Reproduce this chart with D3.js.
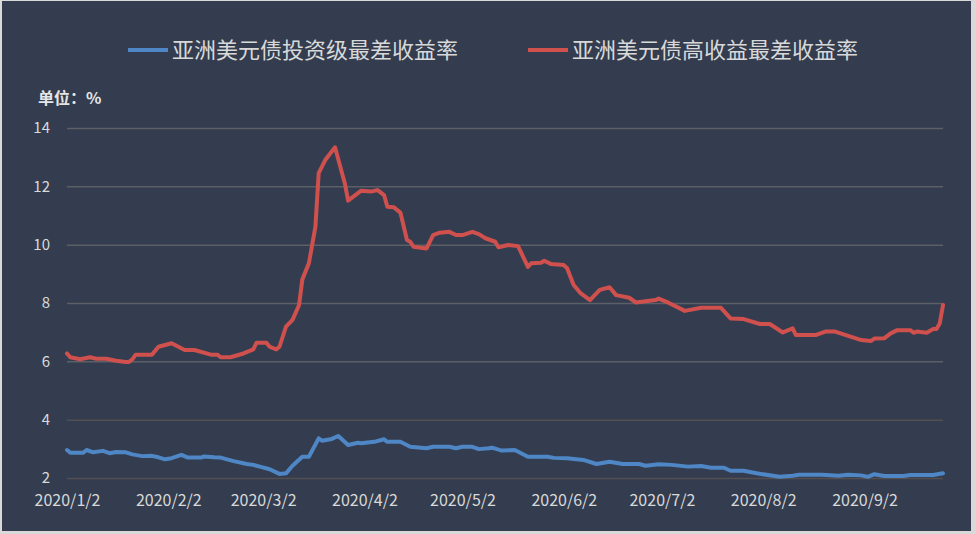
<!DOCTYPE html>
<html>
<head>
<meta charset="utf-8">
<script src="https://cdn.jsdelivr.net/npm/d3@7"></script>
<style>
  html, body { margin: 0; padding: 0; background: #d9d9d9; }
  svg { display: block; }
</style>
</head>
<body>
<svg id="chart" width="976" height="534"></svg>
<script>
// ---- data ----
const seriesNames = ["亚洲美元债投资级最差收益率", "亚洲美元债高收益最差收益率"];
const yTicks = [2, 4, 6, 8, 10, 12, 14];
const xTickLabels = ["2020/1/2", "2020/2/2", "2020/3/2", "2020/4/2", "2020/5/2", "2020/6/2", "2020/7/2", "2020/8/2", "2020/9/2"];

const igDates = ["2020-01-02","2020-01-03","2020-01-07","2020-01-08","2020-01-10","2020-01-13","2020-01-15","2020-01-17","2020-01-20","2020-01-22",
  "2020-01-25","2020-01-28","2020-01-30","2020-02-01","2020-02-03","2020-02-06","2020-02-08","2020-02-12","2020-02-13","2020-02-16",
  "2020-02-18","2020-02-22","2020-02-26","2020-02-28","2020-03-01","2020-03-04","2020-03-07","2020-03-09","2020-03-11","2020-03-14",
  "2020-03-16","2020-03-19","2020-03-20","2020-03-23","2020-03-25","2020-03-28","2020-03-31","2020-04-01","2020-04-05","2020-04-08",
  "2020-04-09","2020-04-13","2020-04-16","2020-04-21","2020-04-23","2020-04-28","2020-04-30","2020-05-02","2020-05-05","2020-05-07",
  "2020-05-10","2020-05-11","2020-05-14","2020-05-18","2020-05-22","2020-05-28","2020-05-30","2020-06-03","2020-06-08","2020-06-12",
  "2020-06-16","2020-06-20","2020-06-25","2020-06-27","2020-07-01","2020-07-05","2020-07-10","2020-07-14","2020-07-17","2020-07-21",
  "2020-07-23","2020-07-27","2020-07-31","2020-08-07","2020-08-11","2020-08-13","2020-08-20","2020-08-25","2020-08-28","2020-09-01",
  "2020-09-03","2020-09-05","2020-09-08","2020-09-14","2020-09-16","2020-09-23","2020-09-26"];
const igValues = [2.96,2.87,2.87,2.96,2.88,2.93,2.85,2.89,2.88,2.81,
  2.75,2.76,2.71,2.64,2.68,2.79,2.70,2.70,2.74,2.71,
  2.70,2.58,2.48,2.45,2.39,2.30,2.14,2.16,2.42,2.73,
  2.73,3.36,3.28,3.34,3.44,3.13,3.21,3.19,3.24,3.33,
  3.24,3.24,3.07,3.02,3.07,3.07,3.02,3.07,3.07,2.99,
  3.02,3.04,2.94,2.96,2.73,2.73,2.69,2.68,2.62,2.48,
  2.56,2.48,2.48,2.42,2.47,2.45,2.39,2.41,2.35,2.35,
  2.25,2.25,2.16,2.04,2.08,2.11,2.11,2.08,2.11,2.09,
  2.04,2.13,2.07,2.07,2.10,2.10,2.16];

const hyDates = ["2020-01-02","2020-01-03","2020-01-06","2020-01-09","2020-01-11","2020-01-14","2020-01-17","2020-01-20","2020-01-21","2020-01-22",
  "2020-01-23","2020-01-28","2020-01-30","2020-02-03","2020-02-07","2020-02-10","2020-02-15","2020-02-17","2020-02-18","2020-02-21",
  "2020-02-25","2020-02-28","2020-02-29","2020-03-03","2020-03-04","2020-03-06","2020-03-07","2020-03-09","2020-03-11","2020-03-13",
  "2020-03-14","2020-03-16","2020-03-18","2020-03-19","2020-03-21","2020-03-24","2020-03-27","2020-03-28","2020-04-01","2020-04-04",
  "2020-04-06","2020-04-08","2020-04-09","2020-04-11","2020-04-13","2020-04-15","2020-04-16","2020-04-17","2020-04-21","2020-04-23",
  "2020-04-25","2020-04-28","2020-04-30","2020-05-02","2020-05-05","2020-05-07","2020-05-09","2020-05-12","2020-05-13","2020-05-16",
  "2020-05-19","2020-05-22","2020-05-23","2020-05-26","2020-05-27","2020-05-29","2020-06-02","2020-06-03","2020-06-05","2020-06-07",
  "2020-06-10","2020-06-11","2020-06-13","2020-06-16","2020-06-18","2020-06-22","2020-06-24","2020-06-30","2020-07-01","2020-07-04",
  "2020-07-09","2020-07-14","2020-07-20","2020-07-23","2020-07-27","2020-08-01","2020-08-04","2020-08-08","2020-08-11","2020-08-12",
  "2020-08-18","2020-08-21","2020-08-24","2020-09-01","2020-09-04","2020-09-05","2020-09-08","2020-09-10","2020-09-12","2020-09-16",
  "2020-09-17","2020-09-18","2020-09-21","2020-09-23","2020-09-24","2020-09-25","2020-09-26"];
const hyValues = [6.27,6.14,6.07,6.14,6.09,6.09,6.02,5.98,5.98,6.07,
  6.23,6.23,6.50,6.62,6.39,6.39,6.23,6.23,6.14,6.14,
  6.27,6.41,6.64,6.64,6.50,6.41,6.50,7.19,7.42,7.93,
  8.81,9.36,10.62,12.45,12.90,13.34,12.10,11.51,11.85,11.82,
  11.87,11.70,11.30,11.28,11.10,10.16,10.10,9.93,9.87,10.33,
  10.41,10.44,10.33,10.33,10.44,10.36,10.22,10.10,9.91,9.99,
  9.95,9.24,9.36,9.38,9.45,9.34,9.30,9.19,8.62,8.35,
  8.10,8.22,8.45,8.54,8.27,8.18,8.02,8.10,8.15,8.01,
  7.73,7.84,7.84,7.47,7.45,7.28,7.28,6.99,7.13,6.90,
  6.90,7.02,7.02,6.73,6.70,6.78,6.79,6.96,7.07,7.07,
  6.98,7.02,6.98,7.11,7.11,7.30,7.93];

const seriesColors = ["#4f86c5", "#d0504e"];

// ---- build ----
const parse = d3.timeParse("%Y-%m-%d");
const parseTick = d3.timeParse("%Y/%m/%d");
const ig = igDates.map((d, i) => ({ date: parse(d), value: igValues[i] }));
const hy = hyDates.map((d, i) => ({ date: parse(d), value: hyValues[i] }));

const svg = d3.select("#chart");
const plotLeft = 67, plotRight = 943, plotTop = 128, plotBottom = 478;

svg.append("rect").attr("x", 2).attr("y", 1).attr("width", 969).attr("height", 530).attr("fill", "#333d4f");

const x = d3.scaleTime()
  .domain([parse("2020-01-02"), parse("2020-09-26")])
  .range([plotLeft, plotRight]);
const y = d3.scaleLinear().domain([2, 14]).range([plotBottom, plotTop]);

const font = "'Noto Sans CJK SC', 'Noto Sans', sans-serif";

// gridlines + y labels
const yAxis = d3.axisLeft(y).tickValues(yTicks).tickSize(-(plotRight - plotLeft)).tickPadding(17).tickFormat(d3.format("d"));
const gy = svg.append("g").attr("transform", `translate(${plotLeft},0)`).call(yAxis);
gy.select(".domain").remove();
gy.selectAll(".tick line").attr("stroke", (d) => d <= 4 ? "#534f50" : "#5c5f65").attr("stroke-width", 1.5);
gy.selectAll(".tick text").attr("fill", "#d9d9d9").attr("font-size", 15).attr("font-family", font);

// x labels
const xAxis = d3.axisBottom(x).tickValues(xTickLabels.map(s => parseTick(s))).tickSize(0).tickPadding(17)
  .tickFormat((d, i) => xTickLabels[i]);
const gx = svg.append("g").attr("transform", `translate(0,${plotBottom})`).call(xAxis);
gx.select(".domain").remove();
gx.selectAll(".tick text").attr("fill", "#d9d9d9").attr("font-size", 16).attr("font-family", font);

// lines
const line = d3.line().x(d => x(d.date)).y(d => y(d.value));
[ig, hy].forEach((data, i) => {
  svg.append("path").datum(data)
    .attr("d", line)
    .attr("fill", "none")
    .attr("stroke", seriesColors[i])
    .attr("stroke-width", 4)
    .attr("stroke-linejoin", "round")
    .attr("stroke-linecap", "round");
});

// unit label
svg.append("text").attr("x", 38).attr("y", 104).text("单位：%")
  .attr("fill", "#e6e6e6").attr("font-size", 16).attr("font-weight", "bold").attr("font-family", font);

// legend
const legendX = [128, 528];
seriesNames.forEach((name, i) => {
  const g = svg.append("g").attr("transform", `translate(${legendX[i]},50)`);
  g.append("line").attr("x1", 0).attr("x2", 40).attr("y1", 0).attr("y2", 0)
    .attr("stroke", seriesColors[i]).attr("stroke-width", 4);
  g.append("text").attr("x", 44).attr("y", 8).text(name)
    .attr("fill", "#d9d9d9").attr("font-size", 22).attr("font-family", font);
});
</script>
</body>
</html>
